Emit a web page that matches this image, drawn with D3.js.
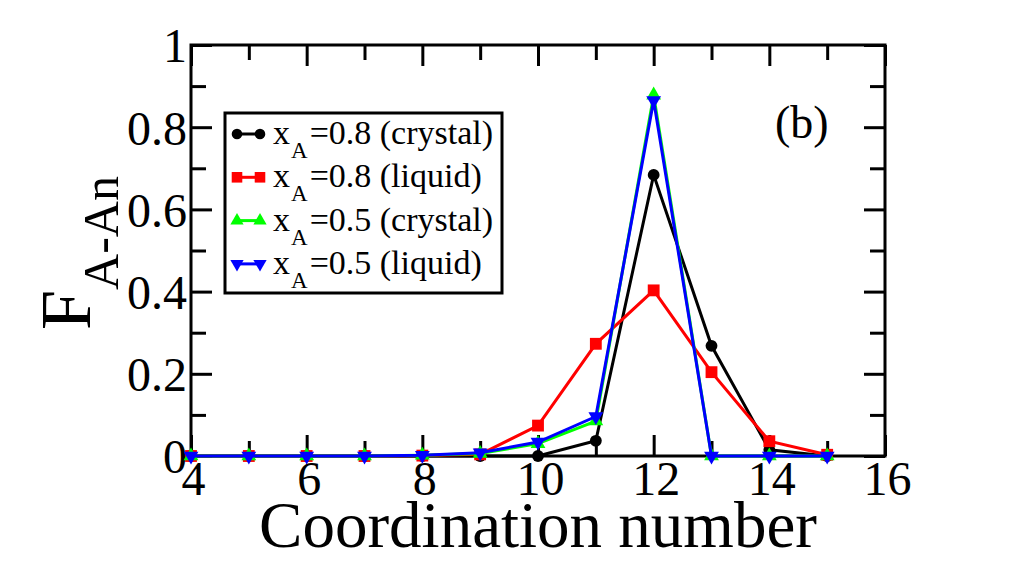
<!DOCTYPE html>
<html>
<head>
<meta charset="utf-8">
<script src="https://cdn.jsdelivr.net/npm/d3@7"></script>
<style>
  body { margin: 0; background: #fff; }
  svg { display: block; }
</style>
</head>
<body>
<svg width="1027" height="563"></svg>
<script>
const coordination = [4, 5, 6, 7, 8, 9, 10, 11, 12, 13, 14, 15];
const crystal08 = [0, 0, 0, 0, 0, 0, 0, 0.037, 0.684, 0.268, 0.015, 0];
const liquid08 = [0, 0, 0, 0, 0.001, 0.004, 0.074, 0.273, 0.403, 0.204, 0.036, 0.003];
const crystal05 = [0, 0, 0, 0, 0.002, 0.006, 0.030, 0.085, 0.878, 0, 0, 0];
const liquid05 = [0, 0, 0, 0, 0.002, 0.008, 0.034, 0.096, 0.865, 0, 0, 0];

const seriesNames = ["0.8 (crystal)", "0.8 (liquid)", "0.5 (crystal)", "0.5 (liquid)"];
const xMajor = [4, 6, 8, 10, 12, 14, 16];
const xMinor = [5, 7, 9, 11, 13, 15];
const yMajor = [0, 0.2, 0.4, 0.6, 0.8, 1];
const yMinor = [0.1, 0.3, 0.5, 0.7, 0.9];

const serif = "'Liberation Serif', 'Times New Roman', Times, 'DejaVu Serif', serif";
const plotLeft = 191, plotRight = 885, plotTop = 45, plotBottom = 456;

const svg = d3.select("svg");

const x = d3.scaleLinear().domain([4, 16]).range([plotLeft, plotRight]);
const y = d3.scaleLinear().domain([0, 1]).range([plotBottom, plotTop]);

const series = [
    {name: seriesNames[0], values: crystal08, color: "#000000", symbol: d3.symbolCircle, size: 110, rot: 0},
    {name: seriesNames[1], values: liquid08, color: "#ff0000", symbol: d3.symbolSquare, size: 140, rot: 0},
    {name: seriesNames[2], values: crystal05, color: "#00ff00", symbol: d3.symbolTriangle, size: 95, rot: 0},
    {name: seriesNames[3], values: liquid05, color: "#0000ff", symbol: d3.symbolTriangle, size: 95, rot: 180}
];

// axes, ticks pointing inward
function styleAxis(g) {
    g.attr("font-family", serif);
    g.select(".domain").remove();
    g.selectAll(".tick line").attr("stroke", "#000").attr("stroke-width", 3);
    g.selectAll(".tick text").attr("fill", "#000");
}

svg.append("g")
    .attr("transform", `translate(0,${plotBottom})`)
    .call(d3.axisBottom(x).tickValues(xMajor).tickSize(-21).tickPadding(5).tickFormat(d3.format("d")))
    .call(styleAxis)
    .call(g => g.selectAll("text").attr("font-size", 48).attr("dx", 2));

svg.append("g")
    .attr("transform", `translate(0,${plotBottom})`)
    .call(d3.axisBottom(x).tickValues(xMinor).tickSize(-15).tickFormat(""))
    .call(styleAxis);

svg.append("g")
    .attr("transform", `translate(0,${plotTop})`)
    .call(d3.axisTop(x).tickValues(xMajor).tickSize(-21).tickFormat(""))
    .call(styleAxis);

svg.append("g")
    .attr("transform", `translate(0,${plotTop})`)
    .call(d3.axisTop(x).tickValues(xMinor).tickSize(-15).tickFormat(""))
    .call(styleAxis);

svg.append("g")
    .attr("transform", `translate(${plotLeft},0)`)
    .call(d3.axisLeft(y).tickValues(yMajor).tickSize(-21).tickPadding(4)
        .tickFormat(d => (d === 0 || d === 1) ? d : d.toFixed(1)))
    .call(styleAxis)
    .call(g => g.selectAll("text").attr("font-size", 48).attr("dy", "0.35em"));

svg.append("g")
    .attr("transform", `translate(${plotLeft},0)`)
    .call(d3.axisLeft(y).tickValues(yMinor).tickSize(-15).tickFormat(""))
    .call(styleAxis);

svg.append("g")
    .attr("transform", `translate(${plotRight},0)`)
    .call(d3.axisRight(y).tickValues(yMajor).tickSize(-21).tickFormat(""))
    .call(styleAxis);

svg.append("g")
    .attr("transform", `translate(${plotRight},0)`)
    .call(d3.axisRight(y).tickValues(yMinor).tickSize(-15).tickFormat(""))
    .call(styleAxis);

svg.append("rect")
    .attr("x", plotLeft).attr("y", plotTop)
    .attr("width", plotRight - plotLeft).attr("height", plotBottom - plotTop)
    .attr("fill", "none").attr("stroke", "#000").attr("stroke-width", 3);

// lines + markers
const line = d3.line()
    .x((d, i) => x(coordination[i]))
    .y(d => y(d));

series.forEach(s => {
    svg.append("path")
        .datum(s.values)
        .attr("d", line)
        .attr("fill", "none")
        .attr("stroke", s.color)
        .attr("stroke-width", 3)
        .attr("stroke-linejoin", "miter");

    svg.append("g").selectAll("path")
        .data(s.values)
        .enter()
        .append("path")
        .attr("d", d3.symbol().type(s.symbol).size(s.size))
        .attr("transform", (d, i) => `translate(${x(coordination[i])},${y(d)}) rotate(${s.rot})`)
        .attr("fill", s.color);
});

// legend
const legend = svg.append("g").attr("font-family", serif);
legend.append("rect")
    .attr("x", 225).attr("y", 113)
    .attr("width", 277).attr("height", 180)
    .attr("fill", "#fff").attr("stroke", "#000").attr("stroke-width", 3);

series.forEach((s, i) => {
    const cy = 134 + i * 43.3;
    const row = legend.append("g");
    row.append("line")
        .attr("x1", 237).attr("x2", 260)
        .attr("y1", cy).attr("y2", cy)
        .attr("stroke", s.color).attr("stroke-width", 3);
    [237, 260].forEach(px => {
        row.append("path")
            .attr("d", d3.symbol().type(s.symbol).size(s.size * 0.8))
            .attr("transform", `translate(${px},${cy}) rotate(${s.rot})`)
            .attr("fill", s.color);
    });
    const t = row.append("text")
        .attr("x", 273).attr("y", cy + 10)
        .attr("font-size", 34);
    t.append("tspan").text("x");
    t.append("tspan").attr("font-size", 23).attr("dy", 14).attr("dx", 1).text("A");
    t.append("tspan").attr("dy", -14).attr("dx", 2).text("=" + s.name);
});

// panel label
svg.append("text")
    .attr("x", 775).attr("y", 138)
    .attr("font-family", serif)
    .attr("font-size", 46)
    .text("(b)");

// axis titles
svg.append("text")
    .attr("x", (plotLeft + plotRight) / 2).attr("y", 547)
    .attr("text-anchor", "middle")
    .attr("font-family", serif)
    .attr("font-size", 65)
    .text("Coordination number");

const yt = svg.append("text")
    .attr("transform", "translate(90,330) rotate(-90)")
    .attr("font-family", serif)
    .attr("font-size", 72);
yt.append("tspan").text("F");
yt.append("tspan").attr("font-size", 50).attr("dy", 28).text("A-An");
</script>
</body>
</html>
